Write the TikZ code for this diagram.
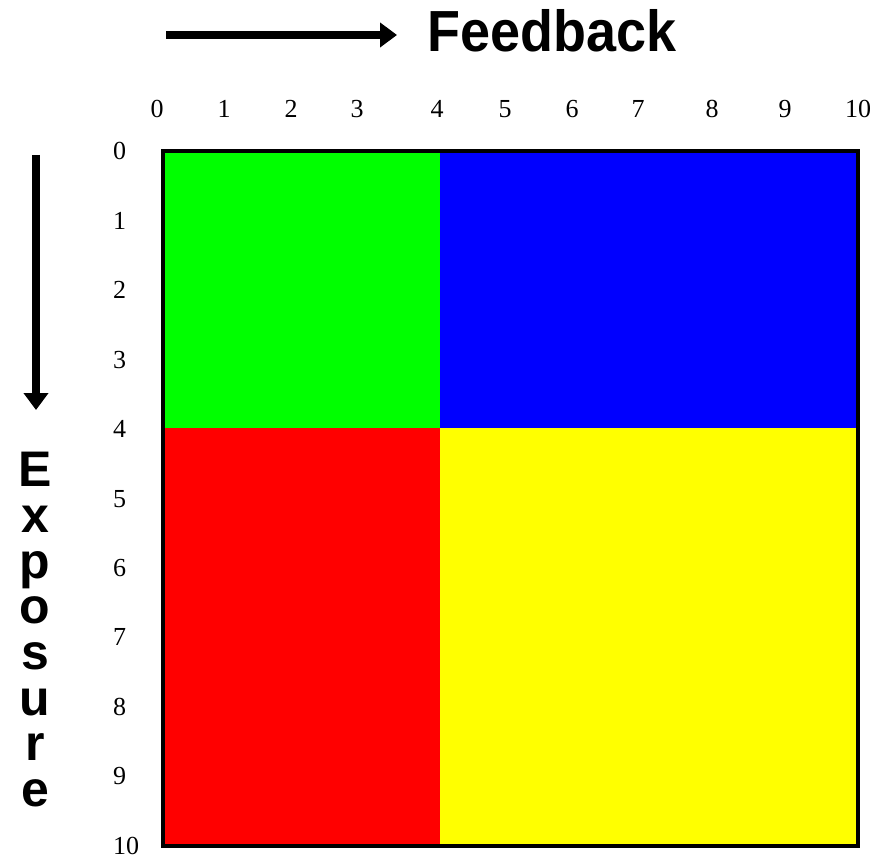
\documentclass[tikz,border=0pt]{standalone}
\usepackage{graphicx}
\usepackage{fontspec}
\setmainfont{Liberation Serif}
\newfontfamily\labelfont{Liberation Sans}
\usetikzlibrary{positioning,arrows.meta}
\definecolor{quadgreen}{RGB}{0,255,0}
\definecolor{quadblue}{RGB}{0,0,255}
\definecolor{quadred}{RGB}{255,0,0}
\definecolor{quadyellow}{RGB}{255,255,0}

\begin{document}
\begin{tikzpicture}[x=1pt, y=-1pt, font=\fontsize{26}{30}\selectfont,
    axisarrow/.style={line width=8pt, -{Triangle[length=17pt,width=24pt]}},
    titletext/.style={inner sep=0pt, font=\labelfont\bfseries\fontsize{58}{60}\selectfont}]
  \useasboundingbox (0,0) rectangle (877,858);
  % quadrants
  \fill[quadgreen]  (163,151) rectangle (440,428);
  \fill[quadblue]   (440,151) rectangle (858,428);
  \fill[quadred]    (163,428) rectangle (440,846);
  \fill[quadyellow] (440,428) rectangle (858,846);
  \draw[line width=3.5pt] (163,151) rectangle (858,846);
  % scales
  \foreach \v/\px in {0/157,1/224,2/291,3/357,4/437,5/505,6/572,7/638,8/712,9/785,10/858}
    \node[anchor=base, inner sep=0pt] (top\v) at (\px,118) {\v};
  \foreach \v in {0,...,10}
    \node[anchor=base west, inner sep=0pt] (left\v) at (113,{160+69.4*\v}) {\v};
  % titles
  \node[titletext, anchor=base west] (feedback) at (427,52) {\scalebox{0.93}[1]{Feedback}};
  \node[titletext, font=\labelfont\bfseries\fontsize{50}{45.7}\selectfont,
        align=center, anchor=north] (exposure) at (35,452) {E\\x\\p\\o\\s\\u\\r\\e};
  \coordinate (fbtail) at (166,35);
  \coordinate (fbtip) at (397,35);
  \coordinate (extail) at (36,155);
  \coordinate (extip) at (36,410);
  \draw[axisarrow] (fbtail) -- (fbtip);
  \draw[axisarrow] (extail) -- (extip);
\end{tikzpicture}
\end{document}
